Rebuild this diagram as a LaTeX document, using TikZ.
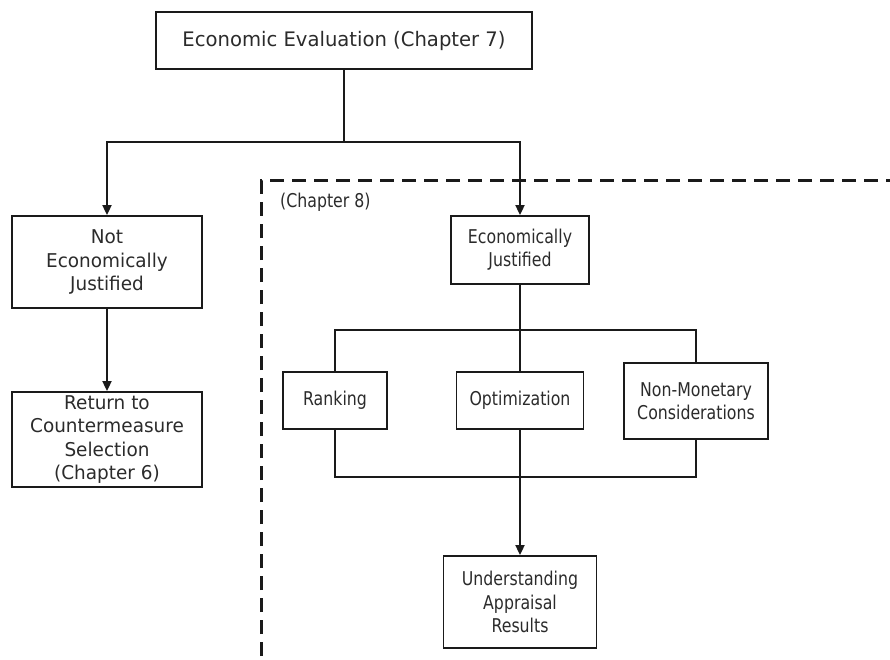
\documentclass[tikz,border=0pt]{standalone}
\usepackage{fontspec}
\usetikzlibrary{arrows.meta}
\newfontfamily\topfont[FakeStretch=0.98]{DejaVu Sans}
\newfontfamily\leftfont[FakeStretch=0.97]{DejaVu Sans}
\newfontfamily\rightfont[FakeStretch=0.83]{DejaVu Sans}
\definecolor{txt}{HTML}{2B2B2B}
\definecolor{ln}{HTML}{1A1A1A}
\tikzset{
  box/.style={draw=ln, line width=1.8pt, rectangle, align=center, text=txt, inner sep=0pt},
  tbox/.style={box, font=\topfont\fontsize{20}{24}\selectfont},
  lbox/.style={box, font=\leftfont\fontsize{19}{23.3}\selectfont},
  rbox/.style={box, font=\rightfont\fontsize{19}{23.3}\selectfont},
  conn/.style={draw=ln, line width=1.8pt},
  arr/.style={conn, -{Triangle[length=10pt,width=9pt]}},
  chapline/.style={draw=ln, line width=3pt, dash pattern=on 14pt off 8pt}
}
\begin{document}
\begin{tikzpicture}[x=1pt,y=-1pt]
\useasboundingbox (0,0) rectangle (890,660);
% dashed region
\coordinate (dbl) at (261,656);
\coordinate (dtl) at (261,181);
\coordinate (dtr) at (890,181);
\draw[chapline] (dbl) -- (dtl) -- (dtr);
\node[anchor=west, text=txt, font=\rightfont\fontsize{19}{23.3}\selectfont, inner sep=0pt] (ch8) at (280,202) {(Chapter 8)};

% nodes
\node[tbox, minimum width=376pt, minimum height=57pt] (top) at (344,40.5) {Economic Evaluation (Chapter 7)};
\node[lbox, minimum width=190pt, minimum height=92pt] (notj) at (107,262) {Not\\Economically\\Justified};
\node[lbox, minimum width=190pt, minimum height=95pt] (ret) at (107,439.5) {Return to\\Countermeasure\\Selection\\(Chapter 6)};
\node[rbox, minimum width=138pt, minimum height=68pt] (ej) at (520,250) {Economically\\Justified};
\node[rbox, minimum width=104pt, minimum height=57pt] (rank) at (335,400.5) {Ranking};
\node[rbox, minimum width=127pt, minimum height=57pt] (opt) at (520,400.5) {Optimization};
\node[rbox, minimum width=144pt, minimum height=76pt] (nonm) at (696,401) {Non-Monetary\\Considerations};
\node[rbox, minimum width=153pt, minimum height=92pt] (und) at (520,602) {Understanding\\Appraisal\\Results};

% junctions
\coordinate (j1) at (344,142);
\coordinate (j2) at (520,330);
\coordinate (j3) at (520,477);

% connectors
\draw[conn] (top.south) -- (j1);
\draw[arr] (j1) -| (notj.north);
\draw[arr] (j1) -| (ej.north);
\draw[arr] (notj.south) -- (ret.north);
\draw[conn] (ej.south) -- (j2);
\draw[conn] (j2) -| (rank.north);
\draw[conn] (j2) -| (nonm.north);
\draw[conn] (j2) -- (opt.north);
\draw[conn] (rank.south) |- (j3);
\draw[conn] (nonm.south) |- (j3);
\draw[conn] (opt.south) -- (j3);
\draw[arr] (j3) -- (und.north);
\end{tikzpicture}
\end{document}
